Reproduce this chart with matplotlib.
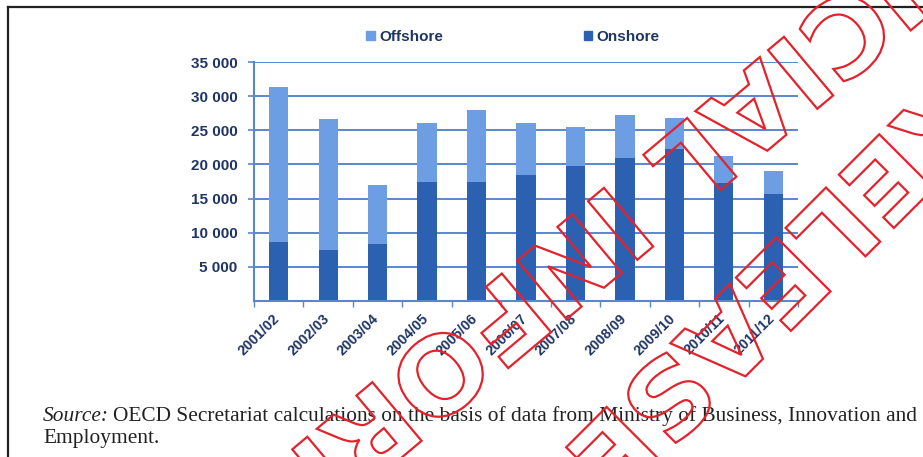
import numpy as np
import matplotlib
matplotlib.use("Agg")
import matplotlib.pyplot as plt
from matplotlib.lines import Line2D
from matplotlib.patches import PathPatch, Rectangle
from matplotlib.textpath import TextPath
from matplotlib.font_manager import FontProperties
from matplotlib.transforms import Affine2D, ScaledTranslation

# data (number of units, by year)
years = ["2001/02", "2002/03", "2003/04", "2004/05", "2005/06", "2006/07",
         "2007/08", "2008/09", "2009/10", "2010/11", "2011/12"]
totals = [31400, 26700, 17000, 26100, 28000, 26100, 25500, 27200, 26800, 21300, 19100]
onshore = [8700, 7500, 8400, 17400, 17400, 18400, 19700, 21000, 22300, 17300, 15600]
offshore = [t - o for t, o in zip(totals, onshore)]
yticks = [5000, 10000, 15000, 20000, 25000, 30000, 35000]

c_off = "#6d9de3"
c_on = "#2c61b2"
c_grid = "#5a86cf"
c_txt = "#1f3563"

W, H = 923, 457
fig = plt.figure(figsize=(W / 100, H / 100), dpi=100)
fig.patch.set_facecolor("white")

ax = fig.add_axes([254 / W, 1 - 301 / H, (798 - 254) / W, (301 - 62) / H])
x = np.arange(len(years))
ax.bar(x, onshore, width=0.39, color=c_on, zorder=3, label="Onshore")
ax.bar(x, offshore, width=0.39, bottom=onshore, color=c_off, zorder=3, label="Offshore")

ax.set_xlim(-0.5, len(years) - 0.5)
ax.set_ylim(0, 35000)
ax.set_yticks(yticks)
ax.set_yticklabels([f"{v:,}".replace(",", " ") for v in yticks])
for v in yticks:
    ax.axhline(v, color=c_grid, lw=1.4, zorder=1)

ax.set_xticks(x)
ax.set_xticklabels(years, rotation=45, ha="right", va="top", rotation_mode="anchor")
ax.set_xticks(np.arange(len(years) + 1) - 0.5, minor=True)
ax.tick_params(axis="x", which="major", length=0, pad=6)
ax.tick_params(axis="x", which="minor", length=4, color=c_grid, width=1)
ax.tick_params(axis="y", length=4, color=c_grid, width=1.2, pad=8)

shift = ScaledTranslation(-6 / 100, -2 / 100, fig.dpi_scale_trans)
for lab in ax.get_xticklabels():
    lab.set_fontsize(10.3)
    lab.set_transform(lab.get_transform() + shift)
for lab in ax.get_yticklabels():
    lab.set_fontsize(11)
for lab in ax.get_xticklabels() + ax.get_yticklabels():
    lab.set_fontfamily("Liberation Sans")
    lab.set_fontweight("bold")
    lab.set_color(c_txt)

for s in ["top", "right"]:
    ax.spines[s].set_visible(False)
for s in ["left", "bottom"]:
    ax.spines[s].set_color(c_grid)
    ax.spines[s].set_linewidth(1.5)
    ax.spines[s].set_zorder(4)

# legend
h_off = Rectangle((0, 0), 1, 1, color=c_off)
h_on = Rectangle((0, 0), 1, 1, color=c_on)
leg = fig.legend([h_off, h_on], ["Offshore", "Onshore"], ncol=2, frameon=False,
                 loc="center", bbox_to_anchor=(513 / W, 1 - 37 / H),
                 handlelength=0.55, handleheight=0.55, handletextpad=0.3,
                 columnspacing=9.2,
                 prop=FontProperties(family="Liberation Sans", weight="bold", size=11))
for t in leg.get_texts():
    t.set_color(c_txt)

# page frame
fig.add_artist(Line2D([8 / W, 1], [1 - 7 / H, 1 - 7 / H], color="#222222", lw=1.6))
fig.add_artist(Line2D([8 / W, 8 / W], [0, 1 - 7 / H], color="#222222", lw=1.6))

# source note
fs = 15.4
fig.canvas.draw()
r = fig.canvas.get_renderer()
t1 = fig.text(43 / W, 1 - 421 / H, "Source:", fontfamily="Liberation Serif",
              fontstyle="italic", fontsize=fs, color="#222222", va="baseline")
bb = t1.get_window_extent(renderer=r)
fig.text((bb.x1 + 4) / W, 1 - 421 / H,
         "OECD Secretariat calculations on the basis of data from Ministry of Business, Innovation and",
         fontfamily="Liberation Serif", fontsize=fs, color="#222222", va="baseline")
fig.text(43 / W, 1 - 443 / H, "Employment.", fontfamily="Liberation Serif",
         fontsize=fs, color="#222222", va="baseline")

# red outlined release stamp across the right half
stamp_font = FontProperties(family="DejaVu Sans", weight="bold")
# text, index of anchor letter, anchor pixel (x, y from top), angle
stamp_lines = [("RELEASED UNDER THE", 3, (785, 282), 225),
               ("OFFICIAL INFORMATION", 7, (690, 165), 220)]
size = 105
for s, idx, (px, py), ang in stamp_lines:
    tp = TextPath((0, 0), s, size=size, prop=stamp_font)
    pre = TextPath((0, 0), s[:idx], size=size, prop=stamp_font).get_extents().x1 if idx else 0
    ch = TextPath((0, 0), s[idx], size=size, prop=stamp_font).get_extents()
    cx = pre + (ch.x0 + ch.x1) / 2
    cy = 0.36 * size
    tr = (Affine2D().translate(-cx, -cy).scale(1.05, 1.0).rotate_deg(ang)
          .translate(px, H - py).scale(1 / 100) + fig.dpi_scale_trans)
    fig.add_artist(PathPatch(tp, transform=tr, fill=False, edgecolor="#e3222c",
                             lw=1.6, zorder=10))

fig.savefig("out.png", dpi=100)
